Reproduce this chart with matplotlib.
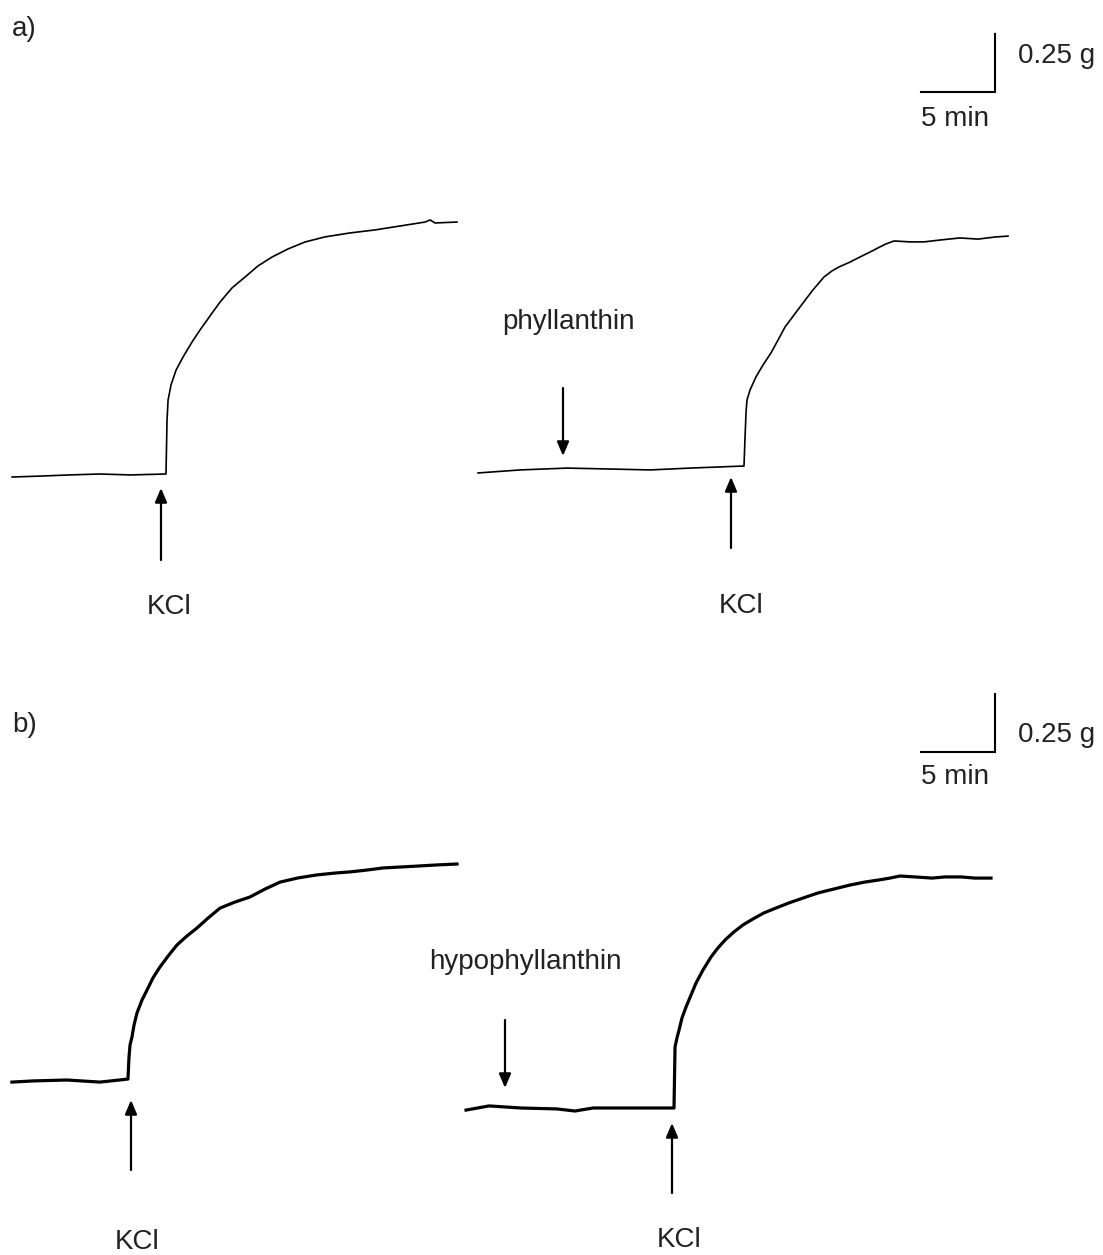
import matplotlib.pyplot as plt

W, H = 1103, 1255

# scale bar values
BAR_MIN = 5
BAR_G = 0.25
PX_PER_MIN = 74 / BAR_MIN
PX_PER_G = 58 / BAR_G

# traces: time (min) from KCl addition, tension (g) above pre-KCl baseline
a_ctrl_t = [-10.4, -8.5, -6.5, -4.5, -2.4, 0.0, 0.07, 0.14, 0.34, 0.68, 1.15, 1.76, 2.30,
            2.97, 3.65, 4.46, 5.34, 6.22, 7.16, 8.24, 9.39, 10.74, 12.43, 14.12, 15.81,
            17.50, 17.84, 18.18, 19.66]
a_ctrl_g = [-0.013, -0.009, -0.004, 0.0, -0.004, 0.0, 0.233, 0.319, 0.384, 0.448, 0.504,
            0.569, 0.621, 0.681, 0.741, 0.802, 0.849, 0.897, 0.935, 0.970, 1.000, 1.022,
            1.039, 1.052, 1.069, 1.086, 1.095, 1.082, 1.086]

a_drug_t = [-17.97, -15.14, -11.96, -9.05, -6.35, -3.65, -1.62, 0.0, 0.07, 0.14, 0.20,
            0.41, 0.81, 1.28, 1.82, 2.30, 2.77, 3.38, 3.99, 4.66, 5.41, 5.95, 6.42, 7.16,
            7.84, 8.51, 9.05, 9.59, 10.14, 11.22, 12.16, 13.24, 14.59, 15.81, 16.96, 17.84]
a_drug_g = [-0.030, -0.017, -0.009, -0.013, -0.017, -0.009, -0.004, 0.0, 0.125, 0.233,
            0.284, 0.328, 0.384, 0.435, 0.487, 0.543, 0.599, 0.651, 0.703, 0.759, 0.815,
            0.841, 0.858, 0.879, 0.901, 0.922, 0.940, 0.957, 0.970, 0.966, 0.966, 0.974,
            0.983, 0.978, 0.987, 0.991]

b_ctrl_t = [-7.91, -6.49, -4.19, -1.96, -0.07, 0.0, 0.07, 0.20, 0.34, 0.54, 0.88, 1.22,
            1.62, 2.09, 2.64, 3.24, 3.92, 4.59, 5.34, 6.15, 7.16, 8.18, 9.19, 10.20, 11.42,
            12.70, 13.92, 14.93, 16.08, 17.16, 18.31, 19.46, 20.81, 22.16]
b_ctrl_g = [-0.009, -0.004, 0.0, -0.009, 0.004, 0.099, 0.151, 0.185, 0.237, 0.289, 0.345,
            0.388, 0.440, 0.487, 0.534, 0.582, 0.621, 0.655, 0.698, 0.741, 0.767, 0.789,
            0.823, 0.853, 0.871, 0.884, 0.892, 0.897, 0.905, 0.914, 0.918, 0.922, 0.927,
            0.931]

b_drug_t = [-14.05, -12.50, -10.34, -7.91, -6.69, -5.47, -3.04, 0.0, 0.07, 0.20, 0.34,
            0.54, 0.81, 1.15, 1.49, 1.96, 2.50, 2.97, 3.45, 4.05, 4.66, 5.34, 6.08, 6.89,
            7.77, 8.72, 9.73, 10.81, 11.89, 12.91, 13.85, 14.59, 15.27, 16.28, 17.43, 18.31,
            19.39, 20.34, 21.42]
b_drug_g = [-0.009, 0.009, 0.0, -0.004, -0.013, 0.0, 0.0, 0.0, 0.263, 0.302, 0.336, 0.388,
            0.435, 0.487, 0.539, 0.595, 0.651, 0.690, 0.724, 0.759, 0.789, 0.815, 0.841,
            0.862, 0.884, 0.905, 0.927, 0.944, 0.961, 0.974, 0.983, 0.991, 1.000, 0.996,
            0.991, 0.996, 0.996, 0.991, 0.991]

labels = ["a)", "b)"]
drugs = ["phyllanthin", "hypophyllanthin"]


def X(px):
    return px / PX_PER_MIN


def Y(py):
    return (H - py) / PX_PER_G


plt.rcParams['font.family'] = ['Liberation Sans', 'DejaVu Sans']
TXT = dict(fontsize=20, color='#222222')

fig = plt.figure(figsize=(W / 100, H / 100), dpi=100)
ax = fig.add_axes([0, 0, 1, 1])
ax.set_xlim(0, X(W))
ax.set_ylim(0, Y(0))
ax.axis('off')

# trace onsets (pixel position of KCl rise) and line widths
traces = [
    (a_ctrl_t, a_ctrl_g, (166, 474), 1.2),
    (a_drug_t, a_drug_g, (744, 466), 1.2),
    (b_ctrl_t, b_ctrl_g, (129, 1080), 2.3),
    (b_drug_t, b_drug_g, (674, 1108), 2.3),
]
for t, g, (ox, oy), lw in traces:
    ax.plot([X(ox) + v for v in t], [Y(oy) + v for v in g], color='black', lw=lw,
            solid_joinstyle='round')


def arrow(x, y_tail, y_tip):
    ax.annotate('', xy=(X(x), Y(y_tip)), xytext=(X(x), Y(y_tail)),
                arrowprops=dict(arrowstyle='-|>,head_length=0.85,head_width=0.36',
                                mutation_scale=10, lw=1.6, color='black',
                                shrinkA=0, shrinkB=0))


# KCl arrows + labels
for x, tail, tip, lx, ly in [(161, 560, 488, 169, 607), (731, 548, 477, 741, 606),
                             (131, 1170, 1100, 137, 1242), (672, 1193, 1123, 679, 1240)]:
    arrow(x, tail, tip)
    ax.text(X(lx), Y(ly), "KCl", ha='center', va='center', **TXT)

# drug arrows + labels
arrow(563, 388, 456)
ax.text(X(568), Y(322), drugs[0], ha='center', va='center', **TXT)
arrow(505, 1020, 1088)
ax.text(X(525), Y(962), drugs[1], ha='center', va='center', **TXT)

# panel labels
ax.text(X(12), Y(29), labels[0], ha='left', va='center', **TXT)
ax.text(X(12), Y(725), labels[1], ha='left', va='center', **TXT)

# scale bars
for bx, by, gy, my in [(921, 92, 56, 119), (921, 752, 735, 777)]:
    x0, y0 = X(bx), Y(by)
    ax.plot([x0, x0 + BAR_MIN, x0 + BAR_MIN], [y0, y0, y0 + BAR_G],
            color='black', lw=1.5, solid_joinstyle='miter')
    ax.text(X(1018), Y(gy), f"{BAR_G} g", ha='left', va='center', **TXT)
    ax.text(x0, Y(my), f"{BAR_MIN} min", ha='left', va='center', **TXT)

plt.savefig('out.png', dpi=100)
